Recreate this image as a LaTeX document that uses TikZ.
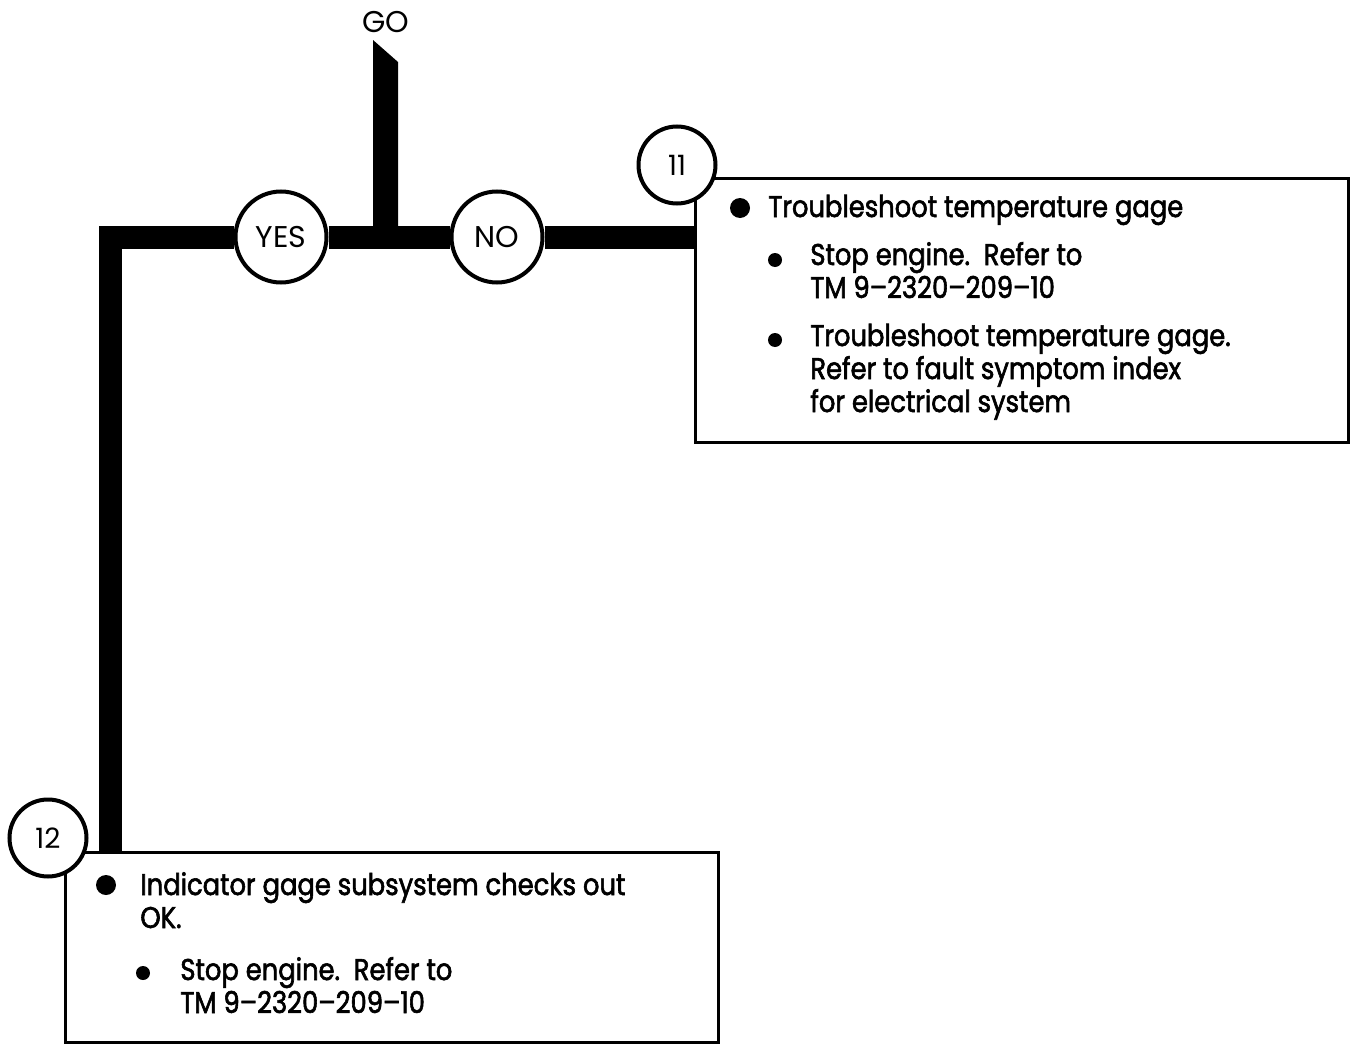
\documentclass[tikz,border=0pt]{standalone}
\usepackage{fontspec}
\setmainfont{Poppins}[FakeStretch=0.86, FakeBold=2]
\newfontfamily\labelfont{Poppins}
\usetikzlibrary{positioning, calc}

\begin{document}
\begin{tikzpicture}[x=0.5pt, y=-0.5pt,
  bar/.style={line width=11.5pt, line join=miter},
  choice/.style={circle, draw, line width=2pt, fill=white, minimum size=45.5pt,
    inner sep=0pt, font=\labelfont\fontsize{15}{17}\selectfont},
  stepnum/.style={circle, draw, line width=2pt, fill=white, minimum size=38.5pt,
    inner sep=0pt, font=\labelfont\fontsize{14}{16}\selectfont},
  box/.style={draw, line width=1.5pt, inner sep=0pt},
  item/.style={anchor=base west, align=left, inner sep=0pt,
    font=\fontsize{15}{16.5}\selectfont},
]
\useasboundingbox (0,0) rectangle (1356,1044);

% Boxes
\node[box, minimum width=326.5pt, minimum height=132pt] (box11) at (1021.5,310) {};
\node[box, minimum width=326.5pt, minimum height=95pt] (box12) at (391.5,947) {};

% Step numbers
\node[stepnum] (n11) at (677,165) {11};
\node[stepnum] (n12) at (48,838) {12};

% Decision
\node[font=\labelfont\fontsize{15}{17}\selectfont] (go) at (386,22) {GO};
\node[choice] (yes) at (281,237) {YES};
\node[choice] (no) at (497,237) {NO};
\coordinate (split) at (385.5,237);
\coordinate (gotip) at (385.5,40);
\coordinate (corner) at (110,237);

% Flow bars
\fill ($(split)+(-12.5,0)$) -- ($(gotip)+(-12.5,0)$) -- ($(gotip)+(12.5,22)$)
  -- ($(split)+(12.5,0)$) -- cycle;
\draw[bar] (yes) -- (no);
\draw[bar] (no) -- (box11.west |- no);
\draw[bar] (yes) -- (corner) -- (corner |- box12.north);

% Step 11 text
\fill (740,208) circle (10);
\node[item] (t11a) at (768,217) {Troubleshoot temperature gage};
\fill (775,260) circle (7);
\node[item] (t11b) at (810,298) {Stop engine.\ \ Refer to\\TM 9--2320--209--10};
\fill (775,340) circle (7);
\node[item] (t11c) at (810,412) {Troubleshoot temperature gage.\\Refer to fault symptom index\\for electrical system};

% Step 12 text
\fill (106,885) circle (10);
\node[item] (t12a) at (140,928) {Indicator gage subsystem checks out\\OK.};
\fill (143,973) circle (7);
\node[item] (t12b) at (180,1013) {Stop engine.\ \ Refer to\\TM 9--2320--209--10};
\end{tikzpicture}
\end{document}
